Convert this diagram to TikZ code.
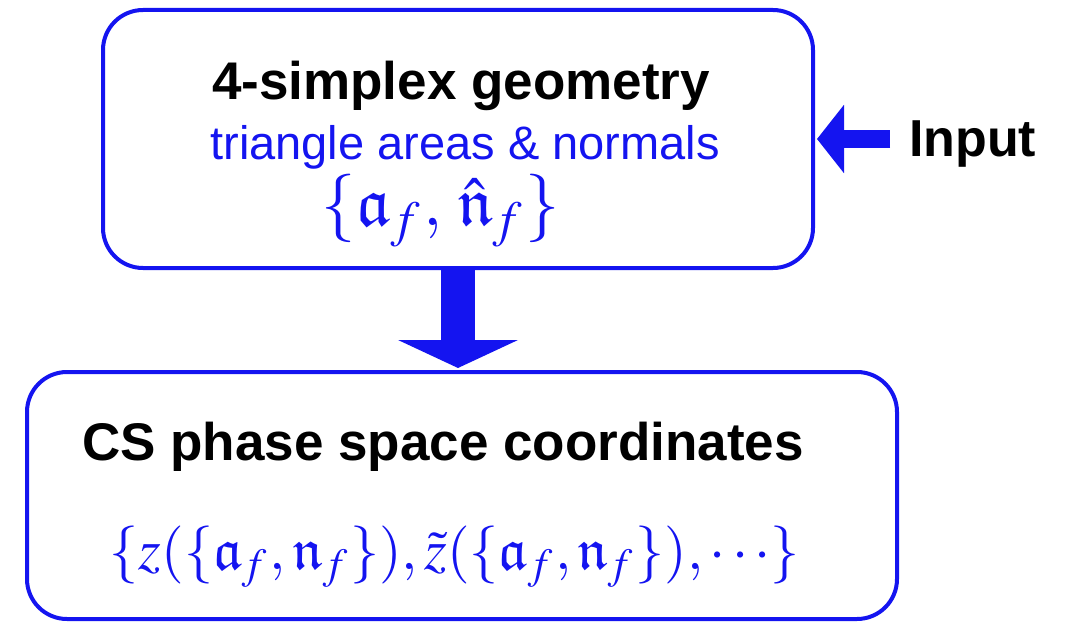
\documentclass[tikz,border=0pt]{standalone}
\usepackage{mathptmx}
\usepackage{amssymb}
\usepackage{graphicx}
\usepackage{fontspec}
\setmainfont{Liberation Sans}
\usetikzlibrary{arrows.meta}
\definecolor{bblue}{RGB}{20,20,240}
\tikzset{
  box/.style={draw=bblue, line width=4pt, rounded corners=40pt, inner sep=0pt},
  ttl/.style={font=\fontsize{53}{60}\selectfont\bfseries, text=black, inner sep=0pt},
  sub/.style={font=\fontsize{47}{54}\selectfont, text=bblue, inner sep=0pt},
  mth/.style={text=bblue, inner sep=0pt},
  fat/.style={draw=bblue, -{Triangle[length=28pt,width=119pt]}, line width=34pt},
  thin/.style={draw=bblue, -{Triangle[length=27pt,width=67pt]}, line width=18pt}
}
\begin{document}
\begin{tikzpicture}[x=1pt,y=-1pt]
\useasboundingbox (0,0) rectangle (1071,623);
\node[box, minimum width=710pt, minimum height=258pt] (top) at (458,139) {};
\node[box, minimum width=870pt, minimum height=247pt] (bot) at (462,495.5) {};
\node[ttl, anchor=base] (t1) at (461,100) {4-simplex geometry};
\node[sub, anchor=base] (t2) at (465,160) {triangle areas \& normals};
\node[mth] (m1) at (441,211) {\resizebox{238pt}{!}{$\{\mathfrak{a}_f,\,\hat{\mathfrak{n}}_f\}$}};
\node[ttl, anchor=base] (t3) at (443,460) {CS phase space coordinates};
\node[mth] (m2) at (455,557) {\resizebox{690pt}{!}{$\{z(\{\mathfrak{a}_f,\mathfrak{n}_f\}),\tilde{z}(\{\mathfrak{a}_f,\mathfrak{n}_f\}),\cdots\}$}};
\node[ttl, anchor=base west, font=\fontsize{52}{60}\selectfont\bfseries] (inp) at (909,157) {Input};
\coordinate (inS) at (890,139);
\draw[fat, shorten >=2pt] (top.south) -- (top.south |- bot.north);
\draw[thin, shorten >=2pt] (inS) -- (inS -| top.east);
\end{tikzpicture}
\end{document}
